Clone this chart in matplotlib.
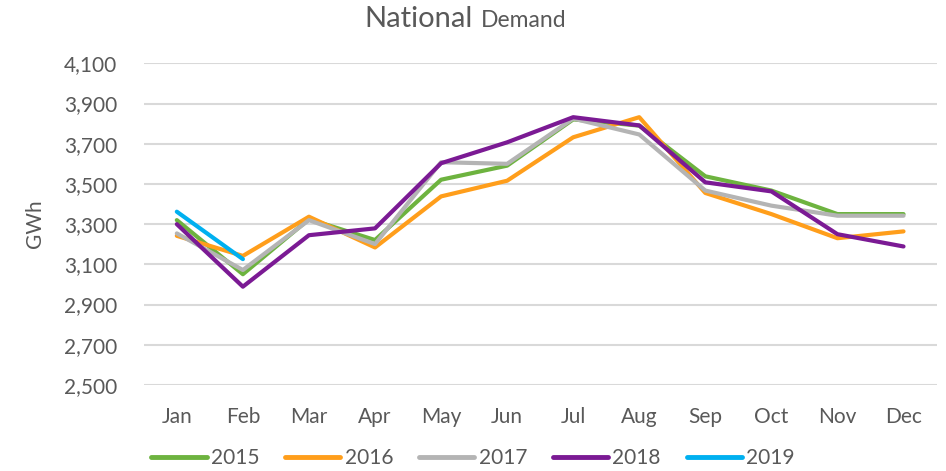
import matplotlib
matplotlib.use("Agg")
import matplotlib.pyplot as plt

months = ["Jan", "Feb", "Mar", "Apr", "May", "Jun", "Jul", "Aug", "Sep", "Oct", "Nov", "Dec"]
years = ["2015", "2016", "2017", "2018", "2019"]
d2015 = [3320, 3051, 3325, 3221, 3521, 3591, 3821, 3790, 3538, 3467, 3350, 3350]
d2016 = [3242, 3142, 3337, 3184, 3438, 3516, 3732, 3832, 3455, 3350, 3230, 3264]
d2017 = [3254, 3072, 3320, 3201, 3608, 3600, 3825, 3746, 3467, 3392, 3342, 3342]
d2018 = [3300, 2989, 3245, 3279, 3603, 3707, 3832, 3791, 3508, 3463, 3250, 3189]
d2019 = [3362, 3126]
series = [d2015, d2016, d2017, d2018, d2019]
colors = ["#6DB33F", "#FF9E1B", "#B4B4B4", "#7B1A94", "#00B0F0"]
yticks = [2500, 2700, 2900, 3100, 3300, 3500, 3700, 3900, 4100]

plt.rcParams['font.family'] = ['Lato', 'DejaVu Sans']
txt = "#595959"
fs = 15

fig = plt.figure(figsize=(9.46, 4.71), dpi=100)
ax = fig.add_axes([0.152, 0.1826, 0.838, 0.683])
for name, vals, c in zip(years, series, colors):
    ax.plot(range(len(vals)), vals, color=c, lw=3, label=name,
            solid_capstyle='round', solid_joinstyle='round')

ax.set_xlim(-0.5, 11.5)
ax.set_ylim(2500, 4100)
ax.set_yticks(yticks)
ax.set_yticklabels([f"{v:,}" for v in yticks])
ax.set_xticks(range(12))
ax.set_xticklabels(months)
ax.grid(axis='y', color='#D9D9D9', lw=1.5)
ax.set_axisbelow(True)
for s in ax.spines.values():
    s.set_visible(False)
ax.tick_params(axis='both', length=0, colors=txt, labelsize=fs)
ax.tick_params(axis='x', pad=16)
ax.tick_params(axis='y', pad=19)
ax.set_ylabel("GWh", color=txt, fontsize=fs, labelpad=14)

fig.text(0.500, 0.943, "National", ha='right', va='baseline', fontsize=21, color=txt)
fig.text(0.508, 0.943, "Demand", ha='left', va='baseline', fontsize=16.5, color=txt)

leg = fig.legend(loc='center', bbox_to_anchor=(0.5, 0.027), ncol=5, frameon=False,
                 fontsize=fs, handlelength=2.65, handletextpad=0.2, columnspacing=1.25)
for t in leg.get_texts():
    t.set_color(txt)
for h in leg.get_lines():
    h.set_linewidth(3.5)

fig.savefig("out.png", dpi=100)
